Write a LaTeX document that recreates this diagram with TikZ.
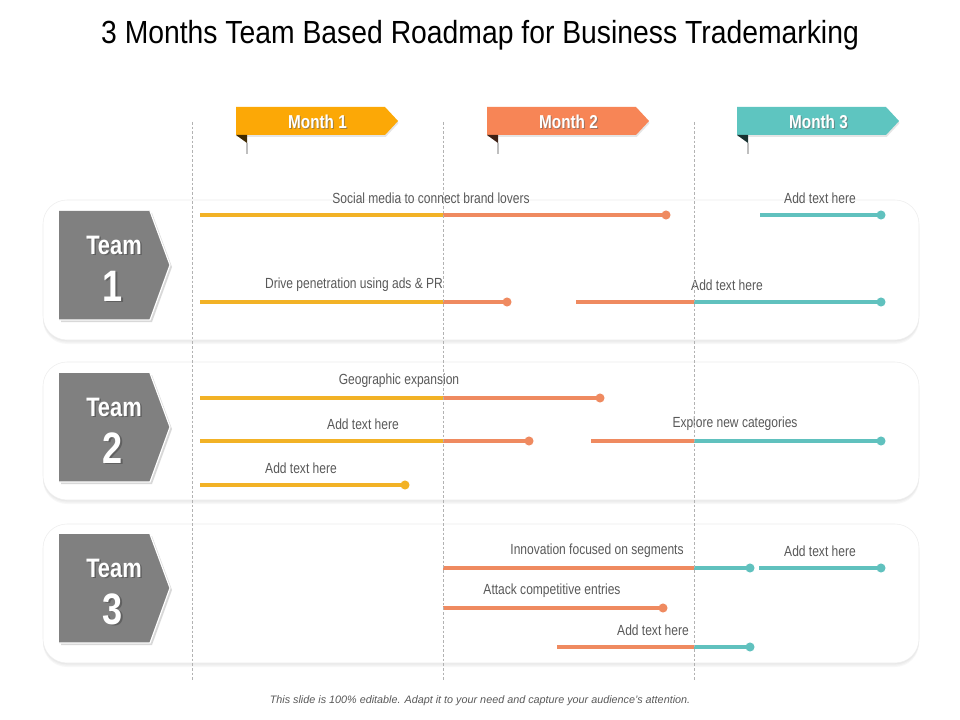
\documentclass[tikz,border=0pt]{standalone}
\usepackage{fontspec}
\setmainfont{Liberation Sans}
\newfontfamily\narrowfont[FakeStretch=0.82]{Liberation Sans}
\newfontfamily\titlefont[FakeStretch=0.885]{Liberation Sans}
\usetikzlibrary{shadows}
\definecolor{myellow}{RGB}{242,178,38}
\definecolor{mcoral}{RGB}{239,138,96}
\definecolor{mteal}{RGB}{96,193,190}
\definecolor{bnyellow}{RGB}{252,168,6}
\definecolor{bncoral}{RGB}{247,133,86}
\definecolor{bnteal}{RGB}{94,197,192}
\definecolor{teamgray}{RGB}{128,128,128}
\definecolor{labelgray}{RGB}{89,89,89}

\begin{document}
\begin{tikzpicture}[x=0.75pt,y=-0.75pt,
    panel/.style={fill=white, draw=black!7, rounded corners=18pt,
      drop shadow={opacity=0.06, shadow xshift=0pt, shadow yshift=-1pt},
      drop shadow={opacity=0.06, shadow xshift=0pt, shadow yshift=-2pt},
      drop shadow={opacity=0.06, shadow xshift=0pt, shadow yshift=-3pt}},
    guide/.style={gray!60, line width=0.4pt, dash pattern=on 2pt off 1.5pt},
    bar/.style={line width=2.3pt},
    dot/.style={circle, inner sep=0pt, minimum size=6.8pt},
    lbl/.style={font=\narrowfont\fontsize{11}{13}\selectfont, text=labelgray, inner sep=0pt},
    monthtxt/.style={font=\narrowfont\bfseries\fontsize{14}{16}\selectfont, inner sep=0pt},
    teamtxt/.style={font=\narrowfont\bfseries\fontsize{20}{22}\selectfont, inner sep=0pt},
    numtxt/.style={font=\narrowfont\bfseries\fontsize{33}{35}\selectfont, inner sep=0pt}]
  \useasboundingbox[fill=white] (0,0) rectangle (960,720);

  % Title
  \node[font=\titlefont\fontsize{24}{27}\selectfont] (title) at (480,35)
    {3 Months Team Based Roadmap for Business Trademarking};

  % Team panels
  \foreach \y/\h in {200/340, 362/500, 524/663}
    \draw[panel] (43,\y) rectangle (919,\h);

  % Month banners
  \foreach \i/\x/\col in {1/236/bnyellow, 2/487/bncoral, 3/737/bnteal}{
    \fill[\col, drop shadow={opacity=0.2, shadow xshift=0.5pt, shadow yshift=-1.5pt}]
      (\x,107) -- (\x+149,107) -- (\x+162,121) -- (\x+149,135) -- (\x,135) -- cycle;
    \fill[black!75!\col] (\x,135) -- (\x+11,135) -- (\x+11,143) -- cycle;
    \draw[black!25, line width=1pt] (\x+11,143) -- (\x+11,154);
    \node[monthtxt, text=black!60, opacity=0.6] at (\x+82.5,122.5) {Month \i};
    \node[monthtxt, text=white] (m\i) at (\x+81.5,121.5) {Month \i};
  }

  % Team badges
  \foreach \i/\y in {1/211, 2/373, 3/534}{
    \fill[teamgray, drop shadow={opacity=0.3, shadow xshift=1.5pt, shadow yshift=-1.5pt}]
      (59,\y) -- (150,\y) -- (170,\y+54) -- (150,\y+109) -- (59,\y+109) -- cycle;
    \draw[white, line width=0.9pt] (150,\y) -- (170,\y+54) -- (150,\y+109) -- (59,\y+109);
    \node[teamtxt, text=black!70, opacity=0.6] at (115.5,\y+35.5) {Team};
    \node[teamtxt, text=white] (t\i) at (114,\y+34) {Team};
    \node[numtxt, text=black!70, opacity=0.6] at (114.5,\y+76.5) {\i};
    \node[numtxt, text=white] (n\i) at (113,\y+75) {\i};
  }

  % Activity bars
  \foreach \n/\y/\xa/\xb/\xc/\ca/\cb/\lx/\lt in {
      r1/215/200/443/666/myellow/mcoral/431/Social media to connect brand lovers,
      r2/215/760/820/881/mteal/mteal/820/Add text here,
      r3/302/200/443/507/myellow/mcoral/354/Drive penetration using ads \& PR,
      r4/302/576/694/881/mcoral/mteal/727/Add text here,
      r5/398/200/443/600/myellow/mcoral/399/Geographic expansion,
      r6/441/200/443/529/myellow/mcoral/363/Add text here,
      r7/441/591/694/881/mcoral/mteal/735/Explore new categories,
      r8/485/200/300/405/myellow/myellow/301/Add text here,
      r9/568/443/694/750/mcoral/mteal/597/Innovation focused on segments,
      r10/568/759/820/881/mteal/mteal/820/Add text here,
      r11/608/443/550/663/mcoral/mcoral/552/Attack competitive entries,
      r12/647/557/694/750/mcoral/mteal/653/Add text here}{
    \coordinate (\n s) at (\xa,\y);
    \coordinate (\n m) at (\xb,\y);
    \coordinate (\n e) at (\xc,\y);
    \draw[bar, \ca] (\n s) -- (\n m);
    \draw[bar, \cb] (\n m) -- (\n e);
    \node[dot, fill=\cb] (\n d) at (\n e) {};
    \node[lbl] (\n l) at (\lx,\y-17) {\lt};
  }

  % Month guides
  \foreach \x in {192,443,694}
    \draw[guide] (\x,122) -- (\x,680);

  % Footer
  \node[font=\itshape\fontsize{8.1}{10}\selectfont, text=black!65] (note) at (480,701)
    {This slide is 100\% editable. Adapt it to your need and capture your audience's attention.};
\end{tikzpicture}
\end{document}
